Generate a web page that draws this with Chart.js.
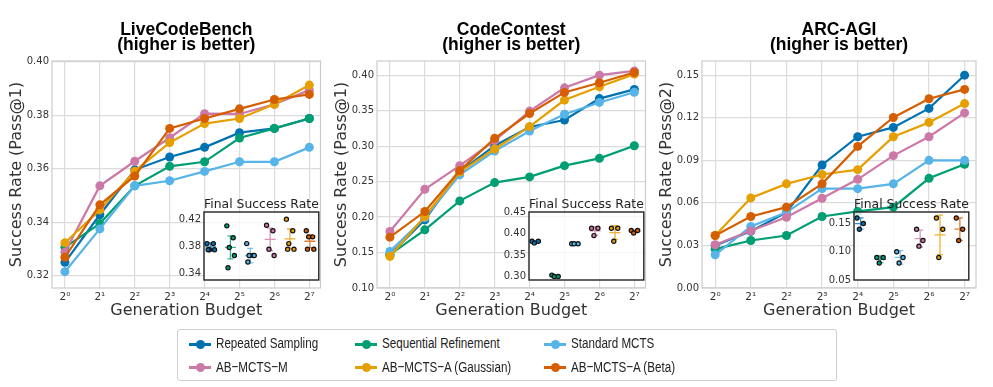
<!DOCTYPE html>
<html>
<head>
<meta charset="utf-8">
<script src="https://cdn.jsdelivr.net/npm/chart.js@4.4.1/dist/chart.umd.min.js"></script>
<style>
  html, body { margin: 0; padding: 0; background: #fff; }
  #wrap { position: relative; width: 993px; height: 387px; overflow: hidden; }
  canvas { position: absolute; }
  .legend { position: absolute; left: 177px; top: 329px; width: 660px; height: 52px;
            border: 1px solid #cfcfcf; border-radius: 3px; box-sizing: border-box; }
  .item { position: absolute; height: 20px; width: 170px; }
  .item .ln { position: absolute; left: 0; top: 8.5px; width: 22px; height: 3px; }
  .item .dot { position: absolute; left: 6.5px; top: 5.5px; width: 9px; height: 9px; border-radius: 50%; }
  .item .t { position: absolute; left: 27px; top: 0; white-space: nowrap; line-height: 20px;
             font: 15.5px "Liberation Sans", Arial, sans-serif; color: #222;
             transform: scaleX(0.75); transform-origin: left center; }
</style>
</head>
<body>
<div id="wrap">
  <canvas id="main1" width="325" height="322" style="left:0;top:0"></canvas>
  <canvas id="main2" width="325" height="322" style="left:325px;top:0"></canvas>
  <canvas id="main3" width="343" height="322" style="left:650px;top:0"></canvas>
  <canvas id="inset1" width="150" height="91" style="left:174px;top:198px"></canvas>
  <canvas id="inset2" width="150" height="91" style="left:499px;top:198px"></canvas>
  <canvas id="inset3" width="150" height="91" style="left:824px;top:198px"></canvas>
  <div class="legend" id="legend"></div>
</div>
<script>
// methods, in plotting order
const methods = ["Repeated Sampling", "Sequential Refinement", "Standard MCTS",
  "AB\u2212MCTS\u2212M", "AB\u2212MCTS\u2212A (Gaussian)", "AB\u2212MCTS\u2212A (Beta)"];
const colors = ["#0072B2", "#009E73", "#56B4E9", "#CC79A7", "#E69F00", "#D55E00"];

// generation budget = 2^k
const budgetExp = [0, 1, 2, 3, 4, 5, 6, 7];
const budgetLabels = ["2\u2070", "2\u00B9", "2\u00B2", "2\u00B3", "2\u2074", "2\u2075", "2\u2076", "2\u2077"];

// LiveCodeBench, Pass@1 (rows follow `methods`)
const lcbValues = [
  [0.3250, 0.3428, 0.3596, 0.3644, 0.3680, 0.3735, 0.3751, 0.3788],
  [0.3306, 0.3395, 0.3536, 0.3609, 0.3626, 0.3715, 0.3751, 0.3788],
  [0.3215, 0.3375, 0.3536, 0.3555, 0.3590, 0.3626, 0.3626, 0.3680],
  [0.3288, 0.3536, 0.3628, 0.3716, 0.3806, 0.3805, 0.3841, 0.3894],
  [0.3323, 0.3446, 0.3591, 0.3698, 0.3769, 0.3788, 0.3841, 0.3913],
  [0.3269, 0.3465, 0.3573, 0.3751, 0.3788, 0.3824, 0.3859, 0.3878]
];
// CodeContest, Pass@1
const ccValues = [
  [0.1469, 0.1960, 0.2640, 0.3006, 0.3270, 0.3368, 0.3670, 0.3800],
  [0.1470, 0.1820, 0.2228, 0.2486, 0.2566, 0.2725, 0.2828, 0.3006],
  [0.1516, 0.1990, 0.2594, 0.2930, 0.3213, 0.3450, 0.3616, 0.3760],
  [0.1797, 0.2392, 0.2725, 0.3077, 0.3494, 0.3822, 0.4000, 0.4060],
  [0.1445, 0.2008, 0.2636, 0.2960, 0.3274, 0.3650, 0.3836, 0.4015],
  [0.1717, 0.2078, 0.2655, 0.3110, 0.3460, 0.3757, 0.3893, 0.4038]
];
// ARC-AGI, Pass@2
const arcValues = [
  [0.0300, 0.0400, 0.0533, 0.0867, 0.1066, 0.1132, 0.1266, 0.1500],
  [0.0274, 0.0335, 0.0370, 0.0504, 0.0540, 0.0570, 0.0773, 0.0872],
  [0.0234, 0.0434, 0.0533, 0.0700, 0.0700, 0.0734, 0.0900, 0.0900],
  [0.0305, 0.0403, 0.0499, 0.0633, 0.0766, 0.0933, 0.1066, 0.1234],
  [0.0370, 0.0635, 0.0734, 0.0800, 0.0834, 0.1066, 0.1167, 0.1300],
  [0.0370, 0.0504, 0.0570, 0.0734, 0.0998, 0.1202, 0.1334, 0.1400]
];

// main y ticks
const lcbTicks = [0.32, 0.34, 0.36, 0.38, 0.40];
const ccTicks = [0.10, 0.15, 0.20, 0.25, 0.30, 0.35, 0.40];
const arcTicks = [0.00, 0.03, 0.06, 0.09, 0.12, 0.15];

// inset: final success rate of each run, mean and error bar half-length
const lcbRuns = [
  [0.3843, 0.3843, 0.3752, 0.3752, 0.3752],
  [0.4105, 0.3929, 0.3786, 0.3666, 0.3486],
  [0.3843, 0.3666, 0.3666, 0.3666, 0.3570],
  [0.4114, 0.4033, 0.3761, 0.3666],
  [0.4204, 0.4033, 0.3843, 0.3761, 0.3761],
  [0.4033, 0.3943, 0.3943, 0.3761, 0.3761]
];
const lcbMeans = [0.3795, 0.3786, 0.3666, 0.3904, 0.3914, 0.3878];
const lcbErr = [0.0060, 0.0170, 0.0107, 0.0167, 0.0145, 0.0095];
const lcbInsetTicks = [0.34, 0.38, 0.42];

const ccRuns = [
  [0.382, 0.382, 0.378],
  [0.303, 0.300, 0.300],
  [0.376, 0.376, 0.376],
  [0.412, 0.412, 0.395],
  [0.412, 0.412, 0.382],
  [0.407, 0.407, 0.401]
];
const ccMeans = [0.380, 0.301, 0.376, 0.406, 0.402, 0.405];
const ccErr = [0.002, 0.0015, 0.001, 0.010, 0.016, 0.003];
const ccInsetTicks = [0.30, 0.35, 0.40, 0.45];

const arcRuns = [
  [0.16, 0.15, 0.14],
  [0.09, 0.09, 0.08],
  [0.10, 0.09, 0.08],
  [0.14, 0.12, 0.11],
  [0.16, 0.14, 0.09],
  [0.16, 0.14, 0.12]
];
const arcMeans = [0.150, 0.0867, 0.090, 0.1233, 0.130, 0.140];
const arcErr = [0.010, 0.006, 0.012, 0.015, 0.035, 0.020];
const arcInsetTicks = [0.05, 0.10, 0.15];

// horizontal spread of the run dots inside a category (style only)
const jitter = [-0.18, 0.14, -0.06, 0.2, -0.12];

const tickFont = { family: '"DejaVu Sans", sans-serif', size: 10 };
const labelFont = { family: '"DejaVu Sans", sans-serif', size: 16 };

// light frame round the plot area
const frame = {
  id: "frame",
  beforeDatasetsDraw(chart) {
    const a = chart.chartArea, ctx = chart.ctx;
    ctx.save();
    ctx.strokeStyle = "#cccccc";
    ctx.lineWidth = 1.2;
    ctx.strokeRect(a.left, a.top, a.right - a.left, a.bottom - a.top);
    ctx.restore();
  }
};

function mainChart(id, title, yTitle, series, yMin, yMax, yTicks, padRight) {
  return new Chart(document.getElementById(id), {
    type: "line",
    data: {
      datasets: series.map((vals, i) => ({
        label: methods[i],
        data: vals.map((v, j) => ({ x: budgetExp[j], y: v })),
        borderColor: colors[i],
        backgroundColor: colors[i],
        pointBackgroundColor: colors[i],
        pointBorderWidth: 0,
        pointRadius: 4.5,
        borderWidth: 2.2,
        order: series.length - i
      }))
    },
    options: {
      responsive: false,
      maintainAspectRatio: false,
      animation: false,
      layout: { padding: { left: 0, right: padRight, top: 0, bottom: 0 } },
      plugins: {
        legend: { display: false },
        tooltip: { enabled: false },
        title: {
          display: true,
          text: [title, "(higher is better)"],
          fullSize: false,
          color: "#000",
          font: { family: '"Liberation Sans", Arial, sans-serif', size: 17.5, weight: "bold", lineHeight: 15 / 17.5 },
          padding: { top: 22.5, bottom: 8.5 }
        }
      },
      scales: {
        x: {
          type: "linear",
          min: -0.37,
          max: 7.32,
          afterBuildTicks: (s) => { s.ticks = budgetExp.map((v) => ({ value: v })); },
          afterFit: (s) => { s.height = 34; },
          ticks: {
            callback: (v, i) => budgetLabels[i],
            font: { family: '"DejaVu Sans", sans-serif', size: 10.5 }, color: "#333", padding: 3, maxRotation: 0, autoSkip: false
          },
          grid: { color: "#dcdcdc", lineWidth: 1.2, drawTicks: false },
          border: { display: false },
          title: { display: true, text: "Generation Budget", font: labelFont, color: "#333", padding: { top: 0, bottom: 1.4 } }
        },
        y: {
          min: yMin,
          max: yMax,
          afterBuildTicks: (s) => { s.ticks = yTicks.map((v) => ({ value: v })); },
          afterFit: (s) => { s.width = 52; },
          ticks: { callback: (v) => v.toFixed(2), font: tickFont, color: "#333", padding: 3 },
          grid: { color: "#dcdcdc", lineWidth: 1.2, drawTicks: false },
          border: { display: false },
          title: { display: true, text: yTitle, font: labelFont, color: "#333", padding: { top: 7.4, bottom: 0 } }
        }
      }
    },
    plugins: [frame]
  });
}

// translucent box, mean marks and error bars for the inset
function insetDecor(means, errs) {
  return {
    id: "insetDecor",
    beforeDatasetsDraw(chart) {
      const a = chart.chartArea, ctx = chart.ctx;
      const xs = chart.scales.x, ys = chart.scales.y;
      ctx.save();
      ctx.fillStyle = "rgba(255,255,255,0.78)";
      ctx.fillRect(a.left, a.top, a.right - a.left, a.bottom - a.top);
      ctx.lineWidth = 1.3;
      means.forEach((m, i) => {
        const x = xs.getPixelForValue(i);
        const yM = ys.getPixelForValue(m);
        const yLo = ys.getPixelForValue(m - errs[i]);
        const yHi = ys.getPixelForValue(m + errs[i]);
        ctx.strokeStyle = colors[i];
        ctx.globalAlpha = 0.8;
        ctx.beginPath();
        ctx.moveTo(x, yLo); ctx.lineTo(x, yHi);
        ctx.moveTo(x - 3, yLo); ctx.lineTo(x + 3, yLo);
        ctx.moveTo(x - 3, yHi); ctx.lineTo(x + 3, yHi);
        ctx.moveTo(x - 5.5, yM); ctx.lineTo(x + 5.5, yM);
        ctx.stroke();
      });
      ctx.restore();
    },
    afterDraw(chart) {
      const a = chart.chartArea, ctx = chart.ctx;
      ctx.save();
      ctx.strokeStyle = "#222";
      ctx.lineWidth = 1.4;
      ctx.strokeRect(a.left, a.top, a.right - a.left, a.bottom - a.top);
      ctx.restore();
    }
  };
}

function insetChart(id, runs, means, errs, yMin, yMax, yTicks) {
  return new Chart(document.getElementById(id), {
    type: "scatter",
    data: {
      datasets: runs.map((r, i) => ({
        data: r.map((v, k) => ({ x: i + jitter[k], y: v })),
        backgroundColor: colors[i],
        borderColor: "#111",
        borderWidth: 1.2,
        pointRadius: 2.1
      }))
    },
    options: {
      responsive: false,
      maintainAspectRatio: false,
      animation: false,
      layout: { padding: { left: 0, right: 4, top: 0, bottom: 0 } },
      plugins: {
        legend: { display: false },
        tooltip: { enabled: false },
        title: {
          display: true,
          text: "Final Success Rate",
          fullSize: false,
          color: "#222",
          font: { family: '"DejaVu Sans", sans-serif', size: 12.5, weight: "normal", lineHeight: 1 },
          padding: { top: 0, bottom: 1.5 }
        }
      },
      scales: {
        x: {
          type: "linear",
          min: -0.33,
          max: 5.45,
          afterFit: (s) => { s.height = 7; },
          ticks: { display: false },
          grid: { display: false },
          border: { display: false }
        },
        y: {
          min: yMin,
          max: yMax,
          afterBuildTicks: (s) => { s.ticks = yTicks.map((v) => ({ value: v })); },
          afterFit: (s) => { s.width = 30; },
          ticks: { callback: (v) => v.toFixed(2), font: tickFont, color: "#333", padding: 3 },
          grid: { display: false, drawTicks: false },
          border: { display: false }
        }
      }
    },
    plugins: [insetDecor(means, errs)]
  });
}

mainChart("main1", "LiveCodeBench", "Success Rate (Pass@1)", lcbValues, 0.3154, 0.4003, lcbTicks, 0);
mainChart("main2", "CodeContest", "Success Rate (Pass@1)", ccValues, 0.10, 0.42, ccTicks, 0);
mainChart("main3", "ARC-AGI", "Success Rate (Pass@2)", arcValues, 0.0, 0.16, arcTicks, 17);

insetChart("inset1", lcbRuns, lcbMeans, lcbErr, 0.3305, 0.431, lcbInsetTicks);
insetChart("inset2", ccRuns, ccMeans, ccErr, 0.2916, 0.45, ccInsetTicks);
insetChart("inset3", arcRuns, arcMeans, arcErr, 0.05, 0.1705, arcInsetTicks);

// legend below the panels
const legend = document.getElementById("legend");
const colX = [11, 177, 366];
const rowY = [4, 27.7];
methods.forEach((m, i) => {
  const it = document.createElement("div");
  it.className = "item";
  it.style.left = colX[i % 3] + "px";
  it.style.top = rowY[Math.floor(i / 3)] + "px";
  it.innerHTML = '<div class="ln" style="background:' + colors[i] + '"></div>' +
    '<div class="dot" style="background:' + colors[i] + '"></div>' +
    '<span class="t"></span>';
  it.querySelector(".t").textContent = m;
  legend.appendChild(it);
});
</script>
</body>
</html>
